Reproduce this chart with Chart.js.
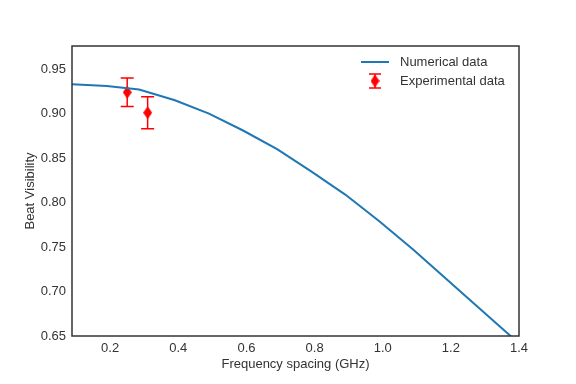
<!DOCTYPE html>
<html>
<head>
<meta charset="utf-8">
<script src="https://cdn.jsdelivr.net/npm/chart.js@4"></script>
<style>
  html, body { margin: 0; padding: 0; background: #fff; }
  #wrap { width: 576px; height: 384px; }
</style>
</head>
<body>
<div id="wrap"><canvas id="chart" width="576" height="384"></canvas></div>
<script>
// numerical curve
const numX = [0.088, 0.19, 0.285, 0.39, 0.49, 0.59, 0.69, 0.79, 0.89, 0.99, 1.09, 1.19, 1.29, 1.39];
const numY = [0.933, 0.931, 0.927, 0.915, 0.900, 0.881, 0.860, 0.835, 0.809, 0.779, 0.747, 0.713, 0.679, 0.645];

// experimental points
const expX = [0.25, 0.31];
const expY = [0.924, 0.901];
const expErr = [0.016, 0.018];

const xTicks = [0.2, 0.4, 0.6, 0.8, 1.0, 1.2, 1.4];
const yTicks = [0.65, 0.70, 0.75, 0.80, 0.85, 0.90, 0.95];

const FONT = 'Liberation Sans, Arial, sans-serif';
const TXT = '#333333';

// thin diamond marker (like matplotlib 'd')
function thinDiamond(w, h) {
  const c = document.createElement('canvas');
  c.width = w; c.height = h;
  const g = c.getContext('2d');
  g.fillStyle = '#ff0000';
  g.beginPath();
  g.moveTo(w / 2, 0); g.lineTo(w, h / 2); g.lineTo(w / 2, h); g.lineTo(0, h / 2);
  g.closePath();
  g.fill();
  return c;
}
const diamond = thinDiamond(9, 13);

// error bars for the experimental series
const errorBars = {
  id: 'errorBars',
  beforeDatasetsDraw(chart) {
    const { ctx, scales: { x, y } } = chart;
    ctx.save();
    ctx.strokeStyle = '#ff0000';
    ctx.lineWidth = 1.5;
    expX.forEach((v, i) => {
      const px = x.getPixelForValue(v);
      const top = y.getPixelForValue(expY[i] + expErr[i]);
      const bot = y.getPixelForValue(expY[i] - expErr[i]);
      ctx.beginPath();
      ctx.moveTo(px, top); ctx.lineTo(px, bot);
      ctx.moveTo(px - 6.5, top); ctx.lineTo(px + 6.5, top);
      ctx.moveTo(px - 6.5, bot); ctx.lineTo(px + 6.5, bot);
      ctx.stroke();
    });
    ctx.restore();
  }
};

// legend and frame
const extras = {
  id: 'extras',
  afterDraw(chart) {
    const { ctx, chartArea: a } = chart;
    ctx.save();
    ctx.strokeStyle = '#333333';
    ctx.lineWidth = 1.5;
    ctx.strokeRect(a.left, a.top, a.right - a.left, a.bottom - a.top);

    ctx.font = '13px ' + FONT;
    ctx.fillStyle = TXT;
    ctx.textBaseline = 'middle';
    ctx.fillText('Numerical data', 400, 62);
    ctx.fillText('Experimental data', 400, 81);

    ctx.strokeStyle = '#1f77b4';
    ctx.lineWidth = 2;
    ctx.beginPath();
    ctx.moveTo(361, 62); ctx.lineTo(389, 62);
    ctx.stroke();

    ctx.strokeStyle = '#ff0000';
    ctx.lineWidth = 1.5;
    ctx.beginPath();
    ctx.moveTo(375, 74); ctx.lineTo(375, 88);
    ctx.moveTo(369, 74); ctx.lineTo(381, 74);
    ctx.moveTo(369, 88); ctx.lineTo(381, 88);
    ctx.stroke();
    ctx.drawImage(diamond, 375 - 4.5, 81 - 6.5);
    ctx.restore();
  }
};

new Chart(document.getElementById('chart'), {
  type: 'scatter',
  data: {
    datasets: [
      {
        label: 'Numerical data',
        data: numX.map((v, i) => ({ x: v, y: numY[i] })),
        showLine: true,
        borderColor: '#1f77b4',
        borderWidth: 2,
        pointRadius: 0,
        tension: 0
      },
      {
        label: 'Experimental data',
        data: expX.map((v, i) => ({ x: v, y: expY[i] })),
        pointStyle: diamond,
        pointRadius: 5,
        backgroundColor: '#ff0000',
        borderColor: '#ff0000'
      }
    ]
  },
  options: {
    responsive: false,
    animation: false,
    layout: { padding: { left: 0, right: 57, top: 46, bottom: 0 } },
    plugins: { legend: { display: false }, tooltip: { enabled: false } },
    scales: {
      x: {
        type: 'linear',
        min: 0.088,
        max: 1.4,
        grid: { display: false, drawTicks: false },
        border: { display: false },
        afterBuildTicks: s => { s.ticks = xTicks.map(v => ({ value: v })); },
        afterFit: s => { s.height = 48; },
        ticks: {
          padding: 5,
          color: TXT,
          font: { family: FONT, size: 13 },
          callback: v => v.toFixed(1)
        },
        title: {
          display: true,
          text: 'Frequency spacing (GHz)',
          color: TXT,
          font: { family: FONT, size: 13 },
          padding: { top: 0, bottom: 12 }
        }
      },
      y: {
        min: 0.65,
        max: 0.976,
        grid: { display: false, drawTicks: false },
        border: { display: false },
        afterBuildTicks: s => { s.ticks = yTicks.map(v => ({ value: v })); },
        afterFit: s => { s.width = 72; },
        ticks: {
          padding: 6,
          color: TXT,
          font: { family: FONT, size: 13 },
          callback: v => v.toFixed(2)
        },
        title: {
          display: true,
          text: 'Beat Visibility',
          color: TXT,
          font: { family: FONT, size: 13 },
          padding: { top: 23, bottom: 0 }
        }
      }
    }
  },
  plugins: [errorBars, extras]
});
</script>
</body>
</html>
